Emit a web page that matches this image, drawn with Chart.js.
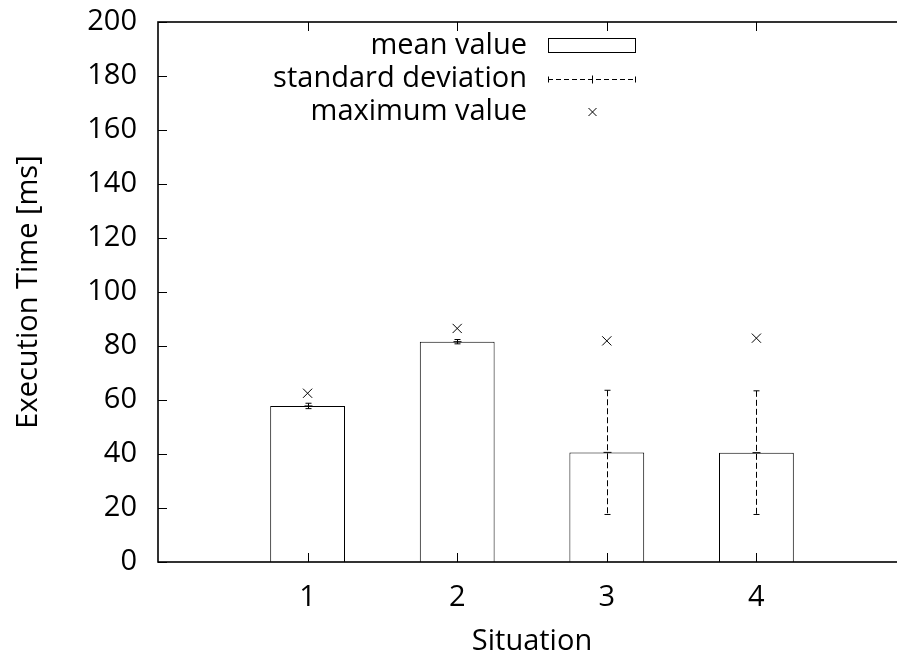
<!DOCTYPE html>
<html>
<head>
<meta charset="utf-8">
<script src="https://cdn.jsdelivr.net/npm/chart.js@4/dist/chart.umd.min.js"></script>
<style>
  html, body { margin: 0; padding: 0; background: #fff; overflow: hidden; }
  #wrap { width: 897px; height: 659px; overflow: hidden; }
</style>
</head>
<body>
<div id="wrap"><canvas id="execChart" width="925" height="659"></canvas></div>
<script>
// Execution time per situation
const situations = [1, 2, 3, 4];
const meanValues = [57.8, 81.6, 40.6, 40.5];
const stdValues = [1.0, 0.8, 23.0, 22.9];
const maxValues = [62.5, 86.5, 81.9, 82.9];
const yTickValues = [0, 20, 40, 60, 80, 100, 120, 140, 160, 180, 200];
const legendLabels = ['mean value', 'standard deviation', 'maximum value'];

const FONT = '"Open Sans", "Noto Sans", sans-serif';
const FSIZE = 29;

// frame + inward ticks like gnuplot
const framePlugin = {
  id: 'frame',
  afterDraw(chart) {
    const { ctx, chartArea: a, scales } = chart;
    ctx.save();
    ctx.strokeStyle = '#000';
    ctx.lineWidth = 1;
    const tl = 9;
    scales.y.ticks.forEach(t => {
      const y = Math.round(scales.y.getPixelForValue(t.value)) + 0.5;
      ctx.beginPath();
      ctx.moveTo(a.left, y); ctx.lineTo(a.left + tl, y);
      ctx.moveTo(a.right, y); ctx.lineTo(a.right - tl, y);
      ctx.stroke();
    });
    scales.x.ticks.forEach(t => {
      const x = Math.round(scales.x.getPixelForValue(t.value)) + 0.5;
      ctx.beginPath();
      ctx.moveTo(x, a.bottom); ctx.lineTo(x, a.bottom - tl);
      ctx.moveTo(x, a.top); ctx.lineTo(x, a.top + tl);
      ctx.stroke();
    });
    ctx.lineWidth = 1.6;
    ctx.strokeRect(a.left, a.top, a.right - a.left, a.bottom - a.top);
    ctx.restore();
  }
};

function drawErrorBar(ctx, x, yLo, yMid, yHi) {
  ctx.save();
  ctx.strokeStyle = '#000';
  ctx.lineWidth = 1;
  ctx.setLineDash([6, 3]);
  ctx.beginPath();
  ctx.moveTo(x, yHi); ctx.lineTo(x, yLo);
  ctx.stroke();
  ctx.setLineDash([]);
  ctx.beginPath();
  ctx.moveTo(x - 3, yHi); ctx.lineTo(x + 3, yHi);
  ctx.moveTo(x - 3, yLo); ctx.lineTo(x + 3, yLo);
  ctx.moveTo(x - 4, yMid); ctx.lineTo(x + 4, yMid);
  ctx.stroke();
  ctx.restore();
}

const errorPlugin = {
  id: 'errorBars',
  afterDatasetsDraw(chart) {
    const { ctx, scales } = chart;
    situations.forEach((s, i) => {
      const x = Math.round(scales.x.getPixelForValue(s)) + 0.5;
      drawErrorBar(ctx, x,
        scales.y.getPixelForValue(meanValues[i] - stdValues[i]),
        scales.y.getPixelForValue(meanValues[i]),
        scales.y.getPixelForValue(meanValues[i] + stdValues[i]));
    });
  }
};

// key in the top of the plot, text on the left of the sample
const keyPlugin = {
  id: 'key',
  afterDraw(chart) {
    const { ctx } = chart;
    const textRight = 527, sx0 = 548, sx1 = 635, rows = [46, 79, 112];
    ctx.save();
    ctx.font = FSIZE + 'px ' + FONT;
    ctx.fillStyle = '#000';
    ctx.textAlign = 'right';
    ctx.textBaseline = 'middle';
    legendLabels.forEach((l, i) => ctx.fillText(l, textRight, rows[i]));
    ctx.strokeStyle = '#000';
    ctx.lineWidth = 1;
    ctx.strokeRect(sx0 + 0.5, 38.5, sx1 - sx0, 14);
    // std sample
    const y = rows[1] + 0.5, mid = Math.round((sx0 + sx1) / 2) + 0.5;
    ctx.setLineDash([5, 3]);
    ctx.beginPath(); ctx.moveTo(sx0, y); ctx.lineTo(sx1, y); ctx.stroke();
    ctx.setLineDash([]);
    ctx.beginPath();
    ctx.moveTo(sx0 + 0.5, y - 3); ctx.lineTo(sx0 + 0.5, y + 3);
    ctx.moveTo(sx1 + 0.5, y - 3); ctx.lineTo(sx1 + 0.5, y + 3);
    ctx.moveTo(mid, y - 4); ctx.lineTo(mid, y + 4);
    ctx.stroke();
    // max sample
    const r = 4;
    ctx.beginPath();
    ctx.moveTo(mid - r, rows[2] - r); ctx.lineTo(mid + r, rows[2] + r);
    ctx.moveTo(mid - r, rows[2] + r); ctx.lineTo(mid + r, rows[2] - r);
    ctx.stroke();
    ctx.restore();
  }
};

new Chart(document.getElementById('execChart'), {
  type: 'bar',
  data: {
    datasets: [{
      label: 'mean value',
      data: situations.map((s, i) => ({ x: s, y: meanValues[i] })),
      backgroundColor: '#fff',
      borderColor: '#000',
      borderWidth: 1,
      categoryPercentage: 1,
      barPercentage: 0.5
    }, {
      type: 'scatter',
      label: 'maximum value',
      data: situations.map((s, i) => ({ x: s, y: maxValues[i] })),
      pointStyle: 'crossRot',
      pointRadius: 6.5,
      borderColor: '#000',
      borderWidth: 1
    }]
  },
  options: {
    responsive: false,
    devicePixelRatio: 1,
    animation: false,
    layout: { padding: { top: 22, right: 19, left: 0, bottom: 0 } },
    plugins: { legend: { display: false }, tooltip: { enabled: false } },
    scales: {
      x: {
        type: 'linear',
        offset: false,
        min: 0, max: 5,
        grid: { display: false, drawTicks: false },
        border: { display: false },
        afterBuildTicks: s => { s.ticks = situations.map(v => ({ value: v })); },
        afterFit: s => { s.height = 97; s.paddingLeft = 0; s.paddingRight = 0; },
        ticks: { color: '#000', font: { family: FONT, size: FSIZE }, padding: 18 },
        title: { display: true, text: 'Situation', color: '#000', font: { family: FONT, size: FSIZE }, padding: { top: 0, bottom: 0 } }
      },
      y: {
        min: 0, max: 200,
        grid: { display: false, drawTicks: false },
        border: { display: false },
        afterBuildTicks: s => { s.ticks = yTickValues.map(v => ({ value: v })); },
        afterFit: s => { s.width = 158; s.paddingTop = 0; s.paddingBottom = 0; },
        ticks: { color: '#000', font: { family: FONT, size: FSIZE }, padding: 21 },
        title: { display: true, text: 'Execution Time [ms]', color: '#000', font: { family: FONT, size: FSIZE }, padding: { top: 11, bottom: 0 } }
      }
    }
  },
  plugins: [errorPlugin, framePlugin, keyPlugin]
});
</script>
</body>
</html>
